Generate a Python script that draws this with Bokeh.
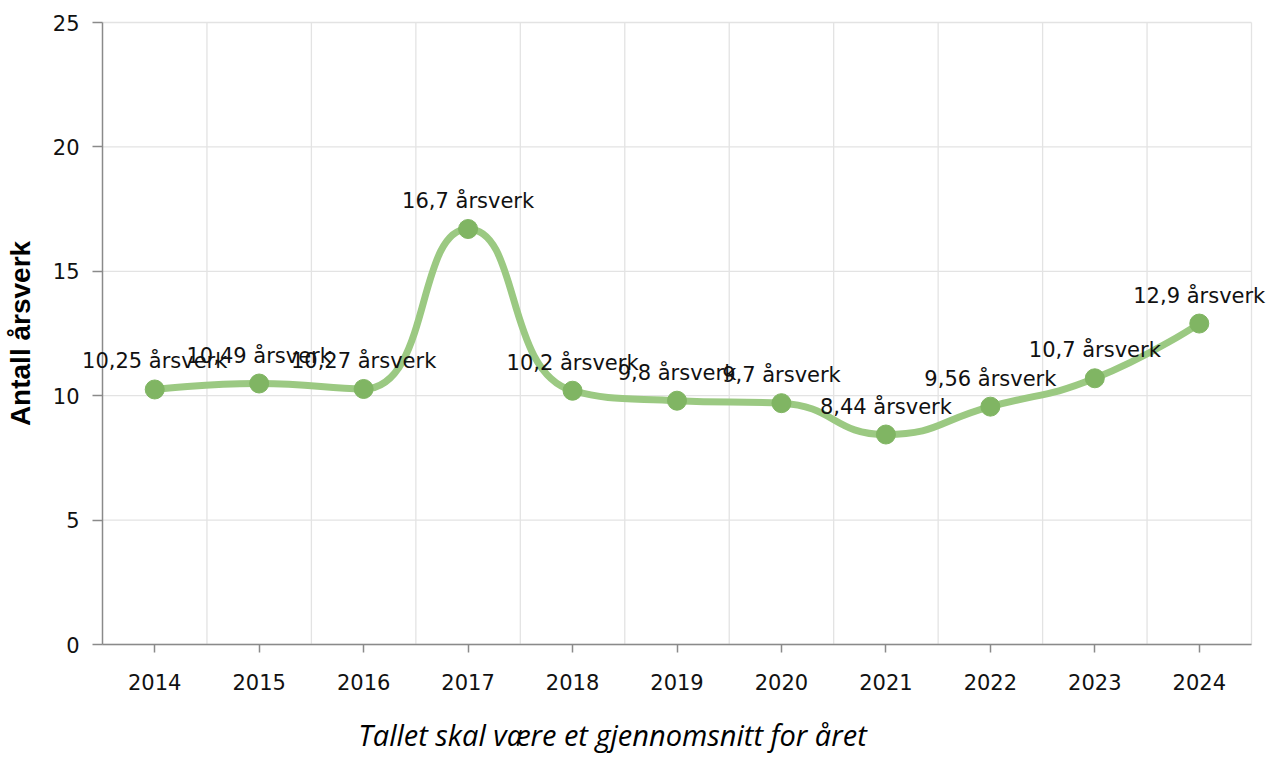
import math
from bokeh.plotting import figure
from bokeh.models import Range1d, FixedTicker, ColumnDataSource, Label, LinearAxis
from bokeh.embed import file_html
from bokeh.resources import INLINE

years = ["2014", "2015", "2016", "2017", "2018", "2019", "2020", "2021", "2022", "2023", "2024"]
values = [10.25, 10.49, 10.27, 16.7, 10.2, 9.8, 9.7, 8.44, 9.56, 10.7, 12.9]
y_ticks = [0, 5, 10, 15, 20, 25]
unit = "årsverk"
y_title = "Antall årsverk"
x_title = "Tallet skal være et gjennomsnitt for året"

labels = [("%g" % v).replace(".", ",") + " " + unit for v in values]
xs = list(range(len(years)))

# layout (pixels)
W, H = 1271, 758
PLOT_L, PLOT_R, PLOT_T, PLOT_B = 102, 1251, 22, 644
Y_MAX = 25
n = len(years)
sx = (PLOT_R - PLOT_L) / n
sy = (PLOT_B - PLOT_T) / Y_MAX
x_lo, x_hi = -0.5, n - 0.5
y_lo, y_hi = 0, Y_MAX


def echarts_smooth(px, py, smooth=0.5):
    m = len(px)
    segs = []
    cpx0, cpy0 = px[0], py[0]
    for i in range(1, m):
        x, y = px[i], py[i]
        prevX, prevY = px[i - 1], py[i - 1]
        if i == m - 1:
            cpx1, cpy1 = x, y
            nCx, nCy = x, y
        else:
            nextX, nextY = px[i + 1], py[i + 1]
            vx = nextX - prevX
            vy = nextY - prevY
            lp = math.hypot(x - prevX, y - prevY)
            ln = math.hypot(nextX - x, nextY - y)
            r = ln / (ln + lp)
            nCx = x + vx * smooth * r
            nCy = y + vy * smooth * r
            nCx = max(min(nCx, max(nextX, x)), min(nextX, x))
            nCy = max(min(nCy, max(nextY, y)), min(nextY, y))
            vx = nCx - x
            vy = nCy - y
            cpx1 = x - vx * lp / ln
            cpy1 = y - vy * lp / ln
            cpx1 = max(min(cpx1, max(prevX, x)), min(prevX, x))
            cpy1 = max(min(cpy1, max(prevY, y)), min(prevY, y))
            vx = x - cpx1
            vy = y - cpy1
            nCx = x + vx * ln / lp
            nCy = y + vy * ln / lp
        segs.append((prevX, prevY, cpx0, cpy0, cpx1, cpy1, x, y))
        cpx0, cpy0 = nCx, nCy
    return segs


segs = echarts_smooth([x * sx for x in xs], [v * sy for v in values])
bez = dict(
    x0=[s[0] / sx for s in segs], y0=[s[1] / sy for s in segs],
    cx0=[s[2] / sx for s in segs], cy0=[s[3] / sy for s in segs],
    cx1=[s[4] / sx for s in segs], cy1=[s[5] / sy for s in segs],
    x1=[s[6] / sx for s in segs], y1=[s[7] / sy for s in segs],
)

# the frame covers the whole canvas so that labels can overhang the plot area
p = figure(width=W, height=H, output_backend="svg", toolbar_location=None,
           x_range=Range1d(x_lo - PLOT_L / sx, x_hi + (W - PLOT_R) / sx),
           y_range=Range1d(y_lo - (H - PLOT_B) / sy, y_hi + PLOT_T / sy),
           x_axis_location=None, y_axis_location=None,
           min_border_left=0, min_border_right=0, min_border_top=0, min_border_bottom=0)
p.outline_line_color = None
p.background_fill_color = "white"
p.xgrid.visible = False
p.ygrid.visible = False

# grid lines confined to the plot area
grid_x = [i + 0.5 for i in xs]
p.segment(x0=grid_x, y0=[y_lo] * len(grid_x), x1=grid_x, y1=[y_hi] * len(grid_x),
          line_color="#e3e3e3", line_width=1.3, level="underlay")
p.segment(x0=[x_lo] * len(y_ticks), y0=y_ticks, x1=[x_hi] * len(y_ticks), y1=y_ticks,
          line_color="#e3e3e3", line_width=1.3, level="underlay")

# axes pinned to the edges of the plot area
yaxis = LinearAxis(fixed_location=x_lo, ticker=FixedTicker(ticks=y_ticks), bounds=(y_lo, y_hi))
xaxis = LinearAxis(fixed_location=y_lo, ticker=FixedTicker(ticks=xs), bounds=(x_lo, x_hi),
                   major_label_overrides={i: y for i, y in enumerate(years)})
p.add_layout(yaxis, "left")
p.add_layout(xaxis, "below")
for ax in (xaxis, yaxis):
    ax.axis_line_color = "#8a8a8a"
    ax.axis_line_width = 1.5
    ax.major_tick_line_color = "#8a8a8a"
    ax.major_tick_line_width = 1.5
    ax.major_tick_in = 0
    ax.minor_tick_line_color = None
    ax.major_label_text_font = "DejaVu Sans"
    ax.major_label_text_font_size = "21px"
    ax.major_label_text_color = "#111111"
xaxis.major_tick_out = 8
xaxis.major_label_standoff = 21
yaxis.major_tick_out = 10
yaxis.major_label_standoff = 13

yaxis.axis_label = y_title
yaxis.axis_label_text_font = "Liberation Sans"
yaxis.axis_label_text_font_style = "bold"
yaxis.axis_label_text_font_size = "28px"
yaxis.axis_label_text_color = "#000000"
yaxis.axis_label_standoff = 14

# x-axis title
p.add_layout(Label(x=612, y=24, x_units="screen", y_units="screen", text=x_title,
                   text_align="center", text_baseline="alphabetic",
                   text_font="Open Sans", text_font_style="italic",
                   text_font_size="29px", text_color="#000000"))

# smooth line
p.bezier(x0="x0", y0="y0", x1="x1", y1="y1", cx0="cx0", cy0="cy0", cx1="cx1", cy1="cy1",
         source=ColumnDataSource(bez), line_color="#9bc982", line_width=7, line_cap="round")

src = ColumnDataSource(dict(x=xs, y=values, text=labels))
p.scatter("x", "y", source=src, size=19, fill_color="#80b563", line_color="#80b563")

for xi, yi, ti in zip(xs, values, labels):
    p.add_layout(Label(x=xi, y=yi, text=ti, y_offset=28,
                       text_align="center", text_baseline="alphabetic",
                       text_font="DejaVu Sans", text_font_size="21px",
                       text_color="#111111"))

open("out.html", "w").write(file_html(p, INLINE))
